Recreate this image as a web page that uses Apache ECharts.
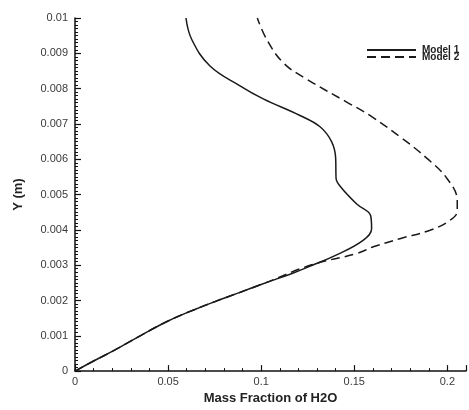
<!DOCTYPE html>
<html>
<head>
<meta charset="utf-8">
<script src="https://cdn.jsdelivr.net/npm/echarts@6/dist/echarts.min.js"></script>
<style>html,body{margin:0;padding:0;background:#fff}#c{width:469px;height:410px}</style>
</head>
<body>
<div id="c"></div>
<script>
// [Mass fraction of H2O, Y (m)]
var model1 = [[0,0],[0.0105,0.0003],[0.0215,0.0006],[0.035,0.001],[0.05,0.00142],[0.065,0.00176],[0.0788,0.00204],[0.0886,0.00223],[0.1003,0.00246],[0.1172,0.00278],[0.1271,0.00299],[0.1405,0.00329],[0.1549,0.00371],[0.1593,0.00403],[0.1588,0.0044],[0.1513,0.00473],[0.1423,0.00524],[0.1402,0.00547],[0.1400,0.00603],[0.1378,0.0065],[0.1316,0.00692],[0.1208,0.00724],[0.1011,0.00771],[0.0886,0.00808],[0.0725,0.00864],[0.0627,0.00939],[0.0596,0.01]];
var model2 = [[0,0],[0.0105,0.0003],[0.0215,0.0006],[0.035,0.001],[0.05,0.00142],[0.065,0.00176],[0.0788,0.00204],[0.1003,0.00246],[0.1271,0.00301],[0.1513,0.00333],[0.1602,0.00352],[0.1745,0.00375],[0.1907,0.00399],[0.2014,0.00427],[0.2053,0.00454],[0.2053,0.00482],[0.1996,0.00547],[0.1889,0.00603],[0.1755,0.0066],[0.1584,0.00724],[0.1459,0.00762],[0.1244,0.00827],[0.1119,0.00873],[0.1030,0.00939],[0.0979,0.01]];
var xTickLabels = ['0','0.05','0.1','0.15','0.2'];
var yTickLabels = ['0','0.001','0.002','0.003','0.004','0.005','0.006','0.007','0.008','0.009','0.01'];
var seriesNames = ['Model 1','Model 2'];

var chart = echarts.init(document.getElementById('c'));
var axisFont = {fontFamily:'Liberation Sans, Arial, sans-serif', fontSize:11, color:'#3a3a3a'};
var legendText = {fontFamily:'Liberation Sans, Arial, sans-serif', fontSize:10, fontWeight:'bold', color:'#222', padding:[0,0,0,1]};
chart.setOption({
  animation:false,
  grid:{left:75, right:3, top:18, bottom:34, containLabel:false},
  legend:[
    {data:[seriesNames[0]], left:366, top:45, itemWidth:49, itemHeight:6, itemGap:0, padding:0,
     itemStyle:{opacity:0}, textStyle:legendText},
    {data:[seriesNames[1]], left:366, top:52, itemWidth:49, itemHeight:6, itemGap:0, padding:0,
     itemStyle:{opacity:0}, textStyle:legendText}
  ],
  xAxis:{
    type:'value', min:0, max:0.21, interval:0.05,
    name:'Mass Fraction of H2O', nameLocation:'middle', nameGap:19,
    nameTextStyle:{fontFamily:'Liberation Sans, Arial, sans-serif', fontSize:13, fontWeight:'bold', color:'#222'},
    axisLine:{show:true, onZero:false, lineStyle:{color:'#111', width:1.5}},
    axisTick:{show:true, inside:true, length:6, lineStyle:{color:'#111', width:1.2}},
    minorTick:{show:true, splitNumber:5, length:3, lineStyle:{color:'#111', width:1}},
    splitLine:{show:false},
    axisLabel:Object.assign({margin:5, showMaxLabel:false, formatter:function(v){var i=Math.round(v/0.05);return (Math.abs(v-i*0.05)<1e-9 && xTickLabels[i]!==undefined)?xTickLabels[i]:'';}}, axisFont)
  },
  yAxis:{
    type:'value', min:0, max:0.01, interval:0.001,
    name:'Y (m)', nameLocation:'middle', nameGap:50, nameRotate:90,
    nameTextStyle:{fontFamily:'Liberation Sans, Arial, sans-serif', fontSize:13, fontWeight:'bold', color:'#222'},
    axisLine:{show:true, onZero:false, lineStyle:{color:'#111', width:1.5}},
    axisTick:{show:true, inside:true, length:6, lineStyle:{color:'#111', width:1.2}},
    minorTick:{show:true, splitNumber:10, length:3, lineStyle:{color:'#111', width:1}},
    splitLine:{show:false},
    axisLabel:Object.assign({margin:7, formatter:function(v){var i=Math.round(v/0.001);return yTickLabels[i]!==undefined?yTickLabels[i]:'';}}, axisFont)
  },
  series:[
    {name:seriesNames[0], type:'line', data:model1, symbol:'none', smooth:0.4,
     lineStyle:{color:'#1a1a1a', width:1.5, type:'solid'}, itemStyle:{color:'#1a1a1a'}},
    {name:seriesNames[1], type:'line', data:model2, symbol:'none', smooth:0.4,
     lineStyle:{color:'#1a1a1a', width:1.5, type:[9,5]}, itemStyle:{color:'#1a1a1a'}}
  ]
});
</script>
</body>
</html>
